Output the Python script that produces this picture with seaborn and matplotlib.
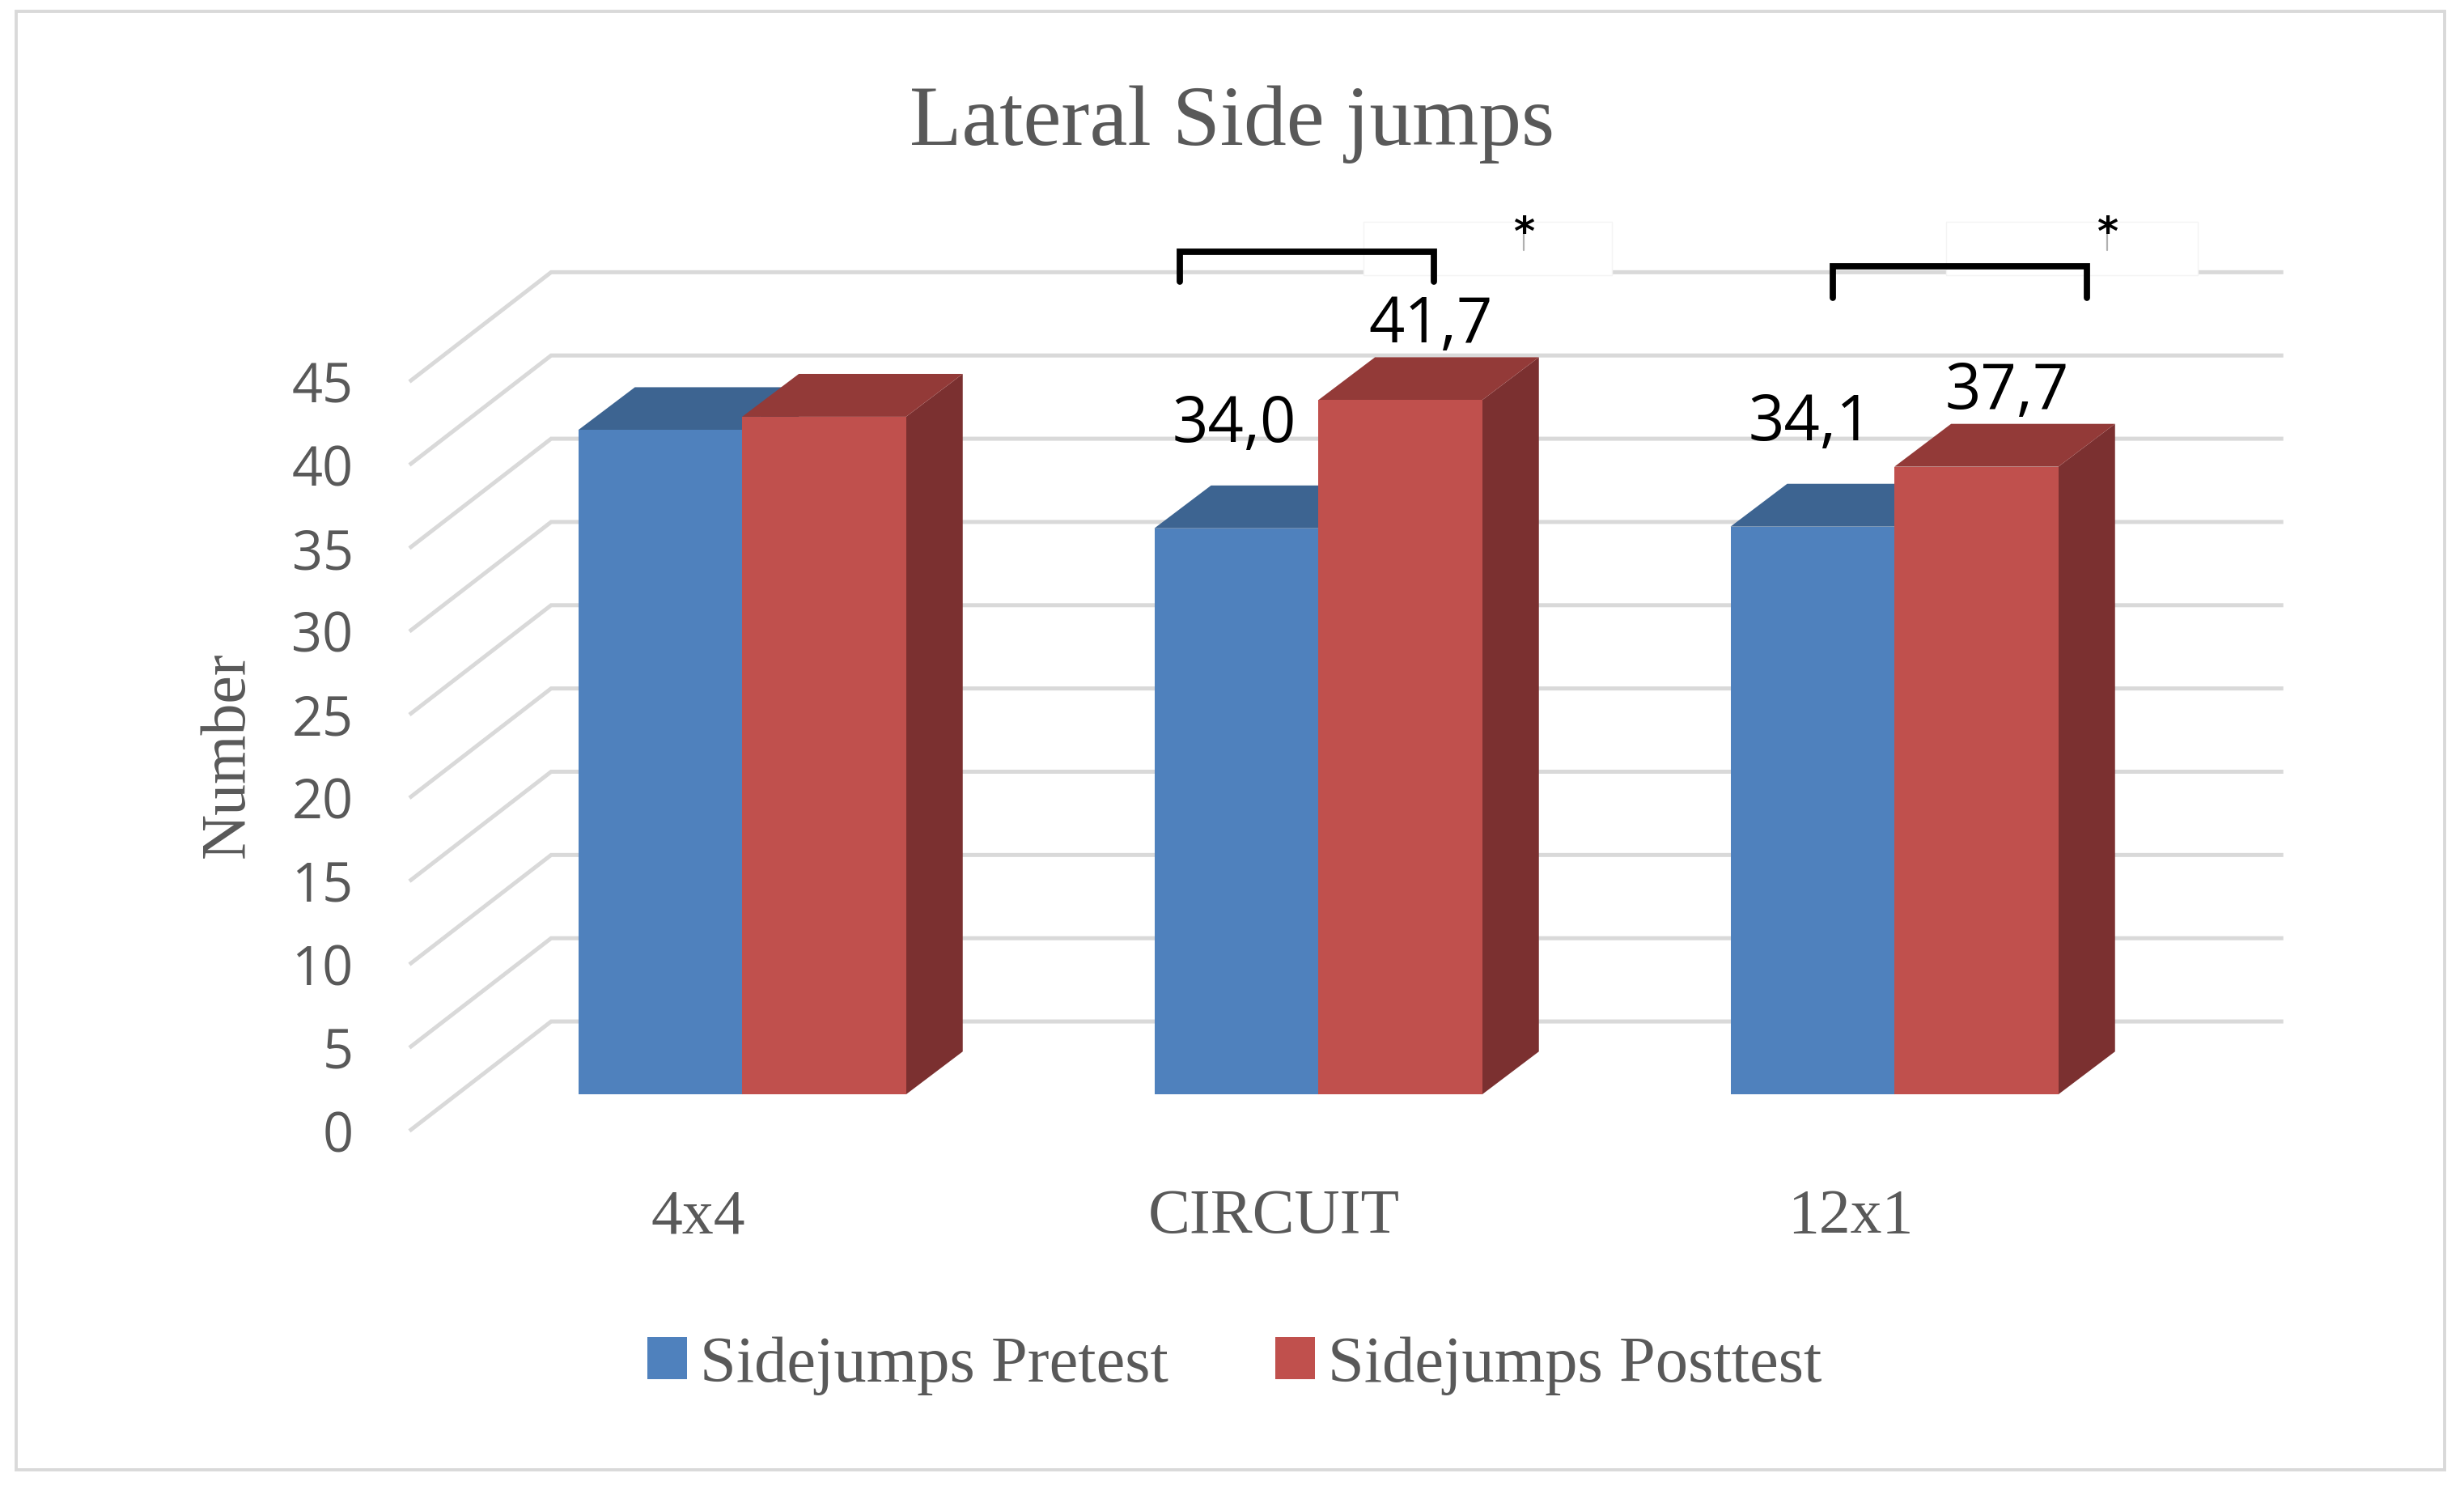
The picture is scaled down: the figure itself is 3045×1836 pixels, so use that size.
"""
Lateral Side jumps - pseudo 3D grouped bars (pretest vs posttest)
"""

import matplotlib
matplotlib.use('Agg')
import matplotlib.pyplot as plt
from matplotlib.patches import Patch, Polygon, Rectangle
import pandas as pd
import seaborn as sns

# ---- data ----
groups = ['4x4', 'CIRCUIT', '12x1']
series = ['Sidejumps Pretest', 'Sidejumps Posttest']
pretest = [39.9, 34.0, 34.1]
posttest = [40.7, 41.7, 37.7]
pre_labels = ['', '34,0', '34,1']
post_labels = ['', '41,7', '37,7']
yticks = [0, 5, 10, 15, 20, 25, 30, 35, 40, 45]

front_colors = ['#4F81BD', '#C0504D']
top_colors = ['#3D6491', '#933A38']
side_colors = ['#35567E', '#7B3030']
grey_text = '#595959'
grid_col = '#D9D9D9'

# ---- fake 3D geometry (data units: x = category, y = value) ----
DX, DY = 0.0984, 2.573            # bar depth offset
FRONT_X, BACK_X, RIGHT_X = -0.5775, -0.3315, 2.675
FRONT_DY, BACK_DY = -2.195, 4.38  # gridline ends relative to the bar front plane
LABEL_DX = [-0.003, 0.053]
LABEL_DY = [5.17, 3.47]

# significance brackets: (x_left, x_right, y_top, y_bottom), star (x, y), cover box
brackets = [(0.759, 1.201, 50.6, 48.8), (1.893, 2.334, 49.74, 47.85)]
stars = [(1.357, 51.7), (2.369, 51.7)]
cover_boxes = [(1.079, 1.510), (2.090, 2.527)]

sns.set_style('white')
plt.rcParams['font.family'] = ['Liberation Serif', 'DejaVu Serif']

W, H, DPI = 3045, 1836, 200
fig = plt.figure(figsize=(W / DPI, H / DPI), dpi=DPI)
fig.patch.set_facecolor('white')
ax = fig.add_axes([0, 0, 1, 1])
ax.set_facecolor('none')

# gridlines: front-left diagonal then along the back wall
for v in yticks:
    ax.plot([FRONT_X, BACK_X, RIGHT_X], [v + FRONT_DY, v + BACK_DY, v + BACK_DY],
            color=grid_col, lw=1.8, zorder=1, solid_joinstyle='miter',
            solid_capstyle='butt')

df = pd.DataFrame({
    'group': groups * 2,
    'value': pretest + posttest,
    'test': [series[0]] * len(groups) + [series[1]] * len(groups),
})
sns.barplot(data=df, x='group', y='value', hue='test', order=groups,
            hue_order=series, palette=front_colors, width=0.569, saturation=1,
            linewidth=0, errorbar=None, legend=False, ax=ax)

labels = [pre_labels, post_labels]
for k, bar in enumerate(list(ax.patches)):
    s, i = divmod(k, len(groups))
    x, w, h = bar.get_x(), bar.get_width(), bar.get_height()
    z = 2 + s
    bar.set_zorder(z + 0.3)
    ax.add_patch(Polygon([(x, h), (x + w, h), (x + w + DX, h + DY), (x + DX, h + DY)],
                         closed=True, fc=top_colors[s], ec='none', zorder=z + 0.2))
    ax.add_patch(Polygon([(x + w, 0), (x + w + DX, DY), (x + w + DX, h + DY), (x + w, h)],
                         closed=True, fc=side_colors[s], ec='none', zorder=z + 0.1))
    if labels[s][i]:
        ax.text(x + w / 2 + LABEL_DX[s], h + LABEL_DY[s], labels[s][i],
                ha='center', va='baseline', fontsize=28, color='black',
                family=['Open Sans', 'DejaVu Sans'], zorder=6)

# significance markers
for (x0, x1, yt, yb) in brackets:
    ax.plot([x0, x0, x1, x1], [yb, yt, yt, yb], color='black', lw=2.8,
            solid_joinstyle='miter', zorder=7)
for (x0, x1) in cover_boxes:
    ax.add_patch(Rectangle((x0, 49.2), x1 - x0, 3.2, fc='white', ec='#F4F4F4',
                           lw=0.5, zorder=1.5))
for (sx, sy) in stars:
    ax.plot([sx, sx], [sy - 1.0, sy + 1.0], color='#B0B0B0', lw=0.8, zorder=6.5)
    ax.text(sx, sy, '*', ha='center', va='center', fontsize=18, color='black',
            family='DejaVu Sans', fontweight='bold', zorder=7)

ax.set_xlim(-1.2881, 2.9886)
ax.set_ylim(-23.52, 65.73)

# axes: ticks placed on the 3D front edge
for sp in ax.spines.values():
    sp.set_visible(False)
ax.spines['left'].set_position(('data', FRONT_X))
ax.spines['bottom'].set_position(('data', -5.66))
ax.set_yticks([v + FRONT_DY for v in yticks], labels=[str(v) for v in yticks])
ax.set_xticks([i - 0.0765 for i in range(len(groups))], labels=groups)
ax.tick_params(axis='y', length=0, pad=25, labelsize=24, labelcolor=grey_text)
ax.tick_params(axis='x', length=0, pad=0, labelsize=28, labelcolor=grey_text)
for lab in ax.get_yticklabels():
    lab.set_fontfamily(['Open Sans', 'DejaVu Sans'])
ax.grid(False)
ax.set_xlabel('')
ax.set_ylabel('Number', fontsize=28, color=grey_text)
ax.yaxis.label.set_va('center')
ax.yaxis.set_label_coords(145 * 1.946 / W, 1 - 479 * 1.946 / H)

ax.set_title('Lateral Side jumps', fontsize=38, color=grey_text,
             y=1 - 92 * 1.946 / H, pad=0)

handles = [Patch(facecolor=c, edgecolor='none', label=s)
           for c, s in zip(front_colors, series)]
ax.legend(handles=handles, loc='center left', bbox_to_anchor=(800 / W, 1 - 1687 / H),
          ncol=2, frameon=False, handlelength=0.61, handleheight=0.61,
          handletextpad=0.2, columnspacing=1.64, borderpad=0, borderaxespad=0,
          fontsize=29, labelcolor=grey_text)

# outer chart frame
fig.patches.append(Rectangle((19.5 / W, 1 - 1815.6 / H), (3021 - 19.5) / W,
                             (1815.6 - 14) / H, transform=fig.transFigure,
                             fill=False, ec=grid_col, lw=1.4))

fig.savefig('out.png', dpi=DPI, facecolor='white')
